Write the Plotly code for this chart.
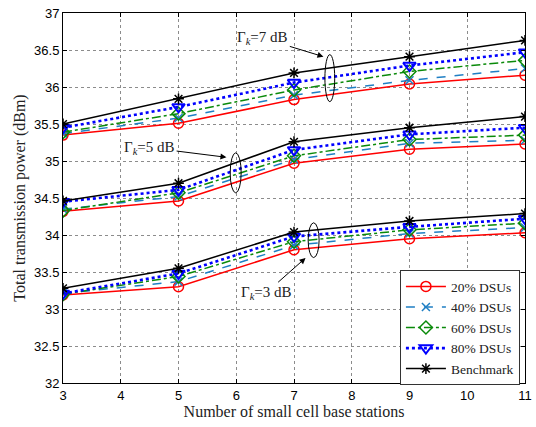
import plotly.graph_objects as go

x_bs = [3, 5, 7, 9, 11]

# Gamma_k = 7 dB
g7_20 = [35.35, 35.51, 35.83, 36.04, 36.16]
g7_40 = [35.37, 35.58, 35.89, 36.09, 36.25]
g7_60 = [35.39, 35.64, 35.96, 36.21, 36.36]
g7_80 = [35.45, 35.73, 36.06, 36.29, 36.47]
g7_bm = [35.50, 35.84, 36.19, 36.41, 36.63]

# Gamma_k = 5 dB
g5_20 = [34.32, 34.46, 34.97, 35.16, 35.23]
g5_40 = [34.35, 34.52, 35.02, 35.24, 35.28]
g5_60 = [34.33, 34.57, 35.07, 35.29, 35.35]
g5_80 = [34.45, 34.61, 35.15, 35.36, 35.45]
g5_bm = [34.46, 34.70, 35.26, 35.45, 35.60]

# Gamma_k = 3 dB
g3_20 = [33.19, 33.30, 33.80, 33.95, 34.03]
g3_40 = [33.21, 33.37, 33.86, 34.02, 34.10]
g3_60 = [33.20, 33.44, 33.91, 34.07, 34.16]
g3_80 = [33.21, 33.48, 33.98, 34.11, 34.22]
g3_bm = [33.28, 33.55, 34.04, 34.19, 34.29]

series_names = ["20% DSUs", "40% DSUs", "60% DSUs", "80% DSUs", "Benchmark"]
y_ticks = [32, 32.5, 33, 33.5, 34, 34.5, 35, 35.5, 36, 36.5, 37]
y_tick_text = ["32", "32.5", "33", "33.5", "34", "34.5", "35", "35.5", "36", "36.5", "37"]
x_ticks = [3, 4, 5, 6, 7, 8, 9, 10, 11]

groups = [
    [g7_20, g7_40, g7_60, g7_80, g7_bm],
    [g5_20, g5_40, g5_60, g5_80, g5_bm],
    [g3_20, g3_40, g3_60, g3_80, g3_bm],
]

styles = [
    dict(color="#FF0000", dash="solid", width=1.5, symbol="circle-open", msize=10),
    dict(color="#1f7fc4", dash="dash", width=1.5, symbol="x-thin-open", msize=8),
    dict(color="#0a8a0a", dash="dashdot", width=1.5, symbol="diamond-open", msize=10),
    dict(color="#0000FF", dash="dot", width=2.6, symbol="triangle-down-open", msize=11),
    dict(color="#000000", dash="solid", width=1.5, symbol="asterisk-open", msize=9),
]

fig = go.Figure()
for gi, grp in enumerate(groups):
    for si, ys in enumerate(grp):
        st = styles[si]
        fig.add_trace(go.Scatter(
            x=x_bs, y=ys, mode="lines+markers",
            name=series_names[si],
            legendgroup=series_names[si],
            showlegend=(gi == 0),
            line=dict(color=st["color"], dash=st["dash"], width=st["width"]),
            marker=dict(symbol=st["symbol"], size=st["msize"],
                        color=st["color"],
                        line=dict(color=st["color"], width=1.5 if si != 3 else 2)),
        ))

serif = "Liberation Serif, DejaVu Serif, serif"
sans = "Liberation Sans, Arial, sans-serif"

# ellipses
for (cx, cy, w, h) in [(7.62, 36.12, 0.17, 0.635), (5.99, 34.84, 0.19, 0.54), (7.34, 33.93, 0.19, 0.47)]:
    fig.add_shape(type="circle", xref="x", yref="y",
                  x0=cx - w / 2, x1=cx + w / 2, y0=cy - h / 2, y1=cy + h / 2,
                  line=dict(color="black", width=1))

# labels with arrows (text sits at the arrow tail)
for (tx, ty, hx, hy, txt) in [(6.46, 36.66, 7.51, 36.41, "Γ<sub><i>k</i></sub>=7 dB"),
                              (4.50, 35.18, 5.83, 35.05, "Γ<sub><i>k</i></sub>=5 dB"),
                              (6.52, 33.22, 7.20, 33.69, "Γ<sub><i>k</i></sub>=3 dB")]:
    fig.add_annotation(x=hx, y=hy, ax=tx, ay=ty, xref="x", yref="y", axref="x", ayref="y",
                       text=txt, showarrow=True, arrowhead=2, arrowsize=1.2, arrowwidth=1,
                       arrowcolor="black",
                       font=dict(family=serif, size=15, color="#222"))

fig.update_layout(
    width=536, height=427,
    margin=dict(l=63, r=4, t=13, b=44),
    paper_bgcolor="white", plot_bgcolor="white",
    showlegend=True,
    legend=dict(x=0.989, y=0.305, xanchor="right", yanchor="top",
                bgcolor="white", bordercolor="#333333", borderwidth=1,
                font=dict(family=serif, size=13.5, color="#222"),
                tracegroupgap=0, itemwidth=40),
    xaxis=dict(range=[3, 11], tickvals=x_ticks, showgrid=True,
               gridcolor="rgba(0,0,0,0.45)", griddash="dot", gridwidth=1,
               ticks="inside", ticklen=4, tickcolor="black",
               showline=True, linecolor="black", linewidth=1, mirror="ticks",
               zeroline=False, ticklabeloverflow="allow",
               tickfont=dict(family=sans, size=13, color="black"),
               title=dict(text="Number of small cell base stations",
                          font=dict(family=serif, size=16, color="#222"), standoff=3)),
    yaxis=dict(range=[32, 37], tickvals=y_ticks, ticktext=y_tick_text, showgrid=True,
               gridcolor="rgba(0,0,0,0.45)", griddash="dot", gridwidth=1,
               ticks="inside", ticklen=4, tickcolor="black",
               showline=True, linecolor="black", linewidth=1, mirror="ticks",
               zeroline=False,
               tickfont=dict(family=sans, size=13, color="black"),
               title=dict(text="Total transmission power (dBm)",
                          font=dict(family=serif, size=16, color="#222"), standoff=4)),
)

fig.write_html("out.html")
